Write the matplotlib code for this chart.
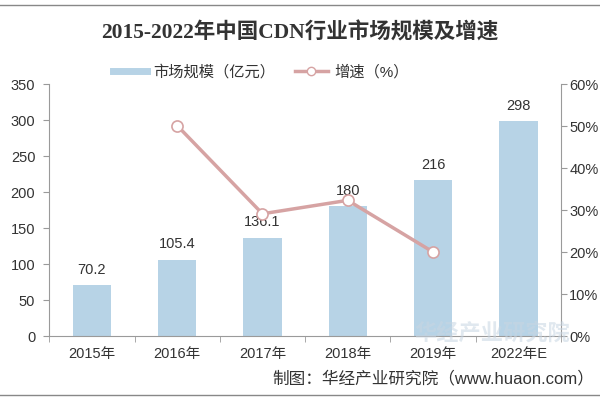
import numpy as np
import matplotlib
matplotlib.use("Agg")
import matplotlib.pyplot as plt
from matplotlib.lines import Line2D

plt.rcParams['font.family'] = ['Liberation Sans', 'Noto Sans CJK SC', 'DejaVu Sans']

# data
years = ['2015年', '2016年', '2017年', '2018年', '2019年', '2022年E']
market = [70.2, 105.4, 136.1, 180, 216, 298]
market_labels = ['70.2', '105.4', '136.1', '180', '216', '298']
growth_idx = [1, 2, 3, 4]
growth = [50.1, 29.1, 32.3, 20.0]

bar_color = '#b7d3e6'
line_color = '#d6a3a3'
text_color = '#333333'
axis_color = '#9a9a9a'

fig = plt.figure(figsize=(6, 4), dpi=100)
ax = fig.add_axes([0.082, 0.16, 0.853, 0.63])
ax2 = ax.twinx()

x = np.arange(len(years))
ax.bar(x, market, width=0.45, color=bar_color, zorder=2)
for xi, v, lab in zip(x, market, market_labels):
    ax.text(xi, v + 12, lab, ha='center', va='bottom', fontsize=10.5, color=text_color)

ax2.plot(growth_idx, growth, color=line_color, lw=2.5, marker='o', ms=8,
         mfc='white', mec=line_color, mew=1.2, zorder=3)

ax.set_xlim(-0.5, len(years) - 0.5)
ax.set_ylim(0, 350)
ax.set_yticks(range(0, 351, 50))
ax2.set_ylim(0, 60)
ax2.set_yticks(range(0, 61, 10))
ax2.set_yticklabels([f'{v}%' for v in range(0, 61, 10)])

ax.set_xticks(x)
ax.set_xticklabels(years)
ax.set_xticks(np.arange(-0.5, len(years), 1), minor=True)
ax.tick_params(axis='x', which='major', length=0, pad=8, labelsize=10.5, colors=text_color)
ax.tick_params(axis='x', which='minor', length=4, color=axis_color, direction='out')
ax.tick_params(axis='y', length=4, color=axis_color, labelsize=10.5, colors=text_color, pad=6)
ax2.tick_params(axis='y', length=4, color=axis_color, labelsize=10.5, colors=text_color, pad=2)

for a in (ax, ax2):
    a.spines['top'].set_visible(False)
    for s in ('left', 'right', 'bottom'):
        a.spines[s].set_color(axis_color)
ax.spines['right'].set_visible(False)
ax2.spines['left'].set_visible(False)
ax2.spines['bottom'].set_visible(False)

fig.text(0.5, 0.918, '2015-2022年中国CDN行业市场规模及增速',
         ha='center', va='center', fontsize=15.5, fontweight='bold', color=text_color,
         family=['Liberation Serif', 'Noto Sans CJK SC'])

handles = [
    Line2D([], [], color=bar_color, lw=5),
    Line2D([], [], color=line_color, lw=2.5, marker='o', ms=6, mfc='white', mec=line_color),
]
fig.legend(handles, ['市场规模（亿元）', '增速（%）'], loc='center', bbox_to_anchor=(0.435, 0.82),
           ncol=2, frameon=False, fontsize=11, handlelength=2.2, handletextpad=0.4,
           columnspacing=1.3, labelcolor=text_color)

fig.text(0.99, 0.055, '制图：华经产业研究院（www.huaon.com）', ha='right', va='center',
         fontsize=12, color=text_color)
fig.text(0.82, 0.165, '华经产业研究院', ha='center', va='center', fontsize=16,
         color='#c8d6e2', alpha=0.55, fontweight='bold')

fig.add_artist(Line2D([0, 1], [0.988, 0.988], color='#888888', lw=1))
fig.add_artist(Line2D([0, 1], [0.012, 0.012], color='#888888', lw=1))

fig.savefig('out.png', dpi=100)
